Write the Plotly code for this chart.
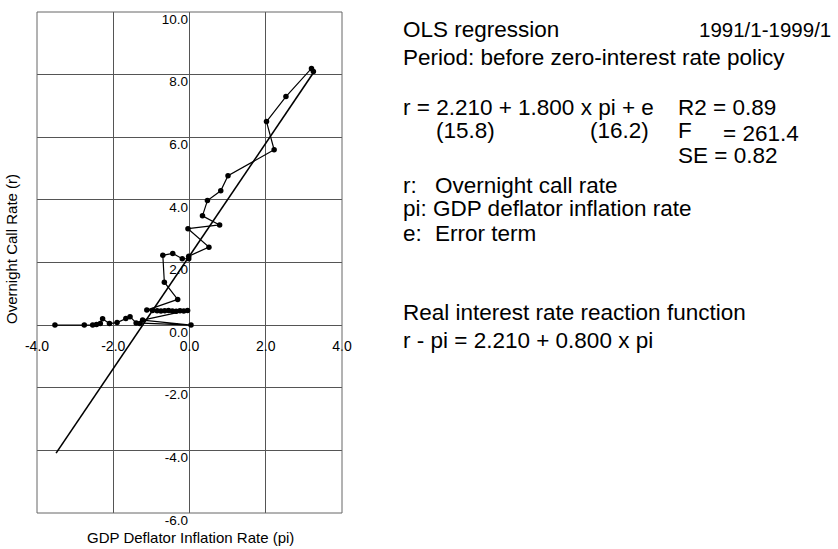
import plotly.graph_objects as go

# ---- data ----
pi_vals = [3.25, 3.20, 2.53, 2.02, 2.22, 1.01, 0.82, 0.47, 0.34, 0.79, -0.04, 0.51,
           -0.02, -0.02, -0.19, -0.44, -0.70, -0.66, -0.31, -1.12, -0.97, -0.85,
           -0.75, -0.65, -0.55, -0.45, -0.35, -0.25, -0.15, -0.05, -1.23, 0.04,
           -1.30, -1.40, -1.56, -1.67, -1.90, -2.10, -2.28, -2.34, -2.44, -2.54,
           -2.76, -3.53]
r_vals = [8.10, 8.20, 7.30, 6.50, 5.60, 4.77, 4.29, 3.98, 3.49, 3.20, 3.08, 2.49,
          2.20, 2.12, 2.12, 2.29, 2.23, 1.37, 0.82, 0.48, 0.47, 0.46, 0.45, 0.46,
          0.47, 0.45, 0.44, 0.46, 0.45, 0.47, 0.16, 0.00, 0.05, 0.07, 0.27, 0.21,
          0.08, 0.05, 0.20, 0.05, 0.02, 0.00, 0.00, 0.00]

intercept = 2.210
slope = 1.800
reg_pi = [-3.5, 3.25]
reg_r = [intercept + slope * p for p in reg_pi]

x_ticks = [-4, -2, 0, 2, 4]
x_labels = ["-4.0", "-2.0", "0.0", "2.0", "4.0"]
y_ticks = [-6, -4, -2, 0, 2, 4, 6, 8, 10]
y_labels = ["-6.0", "-4.0", "-2.0", "0.0", "2.0", "4.0", "6.0", "8.0", "10.0"]

FONT = "Liberation Sans, Arial, Helvetica, sans-serif"
W, H = 838, 549
L, R, T, B = 37, 342, 12, 513

def px(xp):
    return (xp - L) / (R - L)

def py(yp):
    return (B - yp) / (B - T)

fig = go.Figure()
fig.add_trace(go.Scatter(x=reg_pi, y=reg_r, mode="lines",
                         line=dict(color="black", width=1.6),
                         showlegend=False, hoverinfo="skip"))
fig.add_trace(go.Scatter(x=pi_vals, y=r_vals, mode="lines+markers",
                         line=dict(color="black", width=1.2),
                         marker=dict(color="black", size=5.5, symbol="circle"),
                         showlegend=False))

grid_color = "#555555"
fig.update_xaxes(range=[-4.0005, 4.0005], tickvals=x_ticks, ticktext=x_labels,
                 showgrid=True, gridcolor=grid_color, gridwidth=1,
                 zeroline=False, showline=False, ticks="", automargin=False,
                 anchor="free", position=py(325), side="bottom",
                 ticklabelstandoff=11,
                 tickfont=dict(family=FONT, size=14, color="black"))
fig.update_yaxes(range=[-6.001, 10.001], tickvals=y_ticks, ticktext=y_labels,
                 showgrid=True, gridcolor=grid_color, gridwidth=1,
                 zeroline=False, showline=False, ticks="", automargin=False,
                 anchor="free", position=px(190), side="left",
                 ticklabelstandoff=2, ticklabelshift=7,
                 tickfont=dict(family=FONT, size=13.5, color="black"))

fig.add_shape(type="rect", xref="paper", yref="paper", x0=0, y0=0, x1=1, y1=1,
              line=dict(color="#666666", width=1))

annots = []
def txt(text, xp, yp, size=22.5, xanchor="left", angle=0):
    annots.append(dict(text=text, x=px(xp), y=py(yp), xref="paper", yref="paper",
                       xanchor=xanchor, yanchor="middle", showarrow=False,
                       textangle=angle,
                       font=dict(family=FONT, size=size, color="black")))

txt("GDP Deflator Inflation Rate (pi)", 190, 537, size=15, xanchor="center")
txt("Overnight Call Rate (r)", 12, 249, size=15, xanchor="center", angle=-90)

txt("OLS regression", 401, 30)
txt("1991/1-1999/1", 697, 30, size=20.5)
txt("Period: before zero-interest rate policy", 401, 57)
txt("r = 2.210 + 1.800 x pi + e", 401, 107)
txt("R2 = 0.89", 676, 107)
txt("(15.8)", 434, 131)
txt("(16.2)", 588, 131)
txt("F", 676, 131)
txt("= 261.4", 721, 133)
txt("SE = 0.82", 676, 155)
txt("r:", 401, 185)
txt("Overnight call rate", 433, 185)
txt("pi: GDP deflator inflation rate", 401, 209)
txt("e:", 401, 233)
txt("Error term", 433, 233)
txt("Real interest rate reaction function", 401, 312)
txt("r - pi = 2.210 + 0.800 x pi", 401, 340)

fig.update_layout(width=W, height=H,
                  margin=dict(l=L, r=W - R, t=T, b=H - B, pad=0, autoexpand=False),
                  paper_bgcolor="white", plot_bgcolor="white",
                  annotations=annots, showlegend=False)

fig.write_html("out.html", config={"displayModeBar": False},
               post_script="document.body.style.margin='0';document.body.style.overflow='hidden';")
